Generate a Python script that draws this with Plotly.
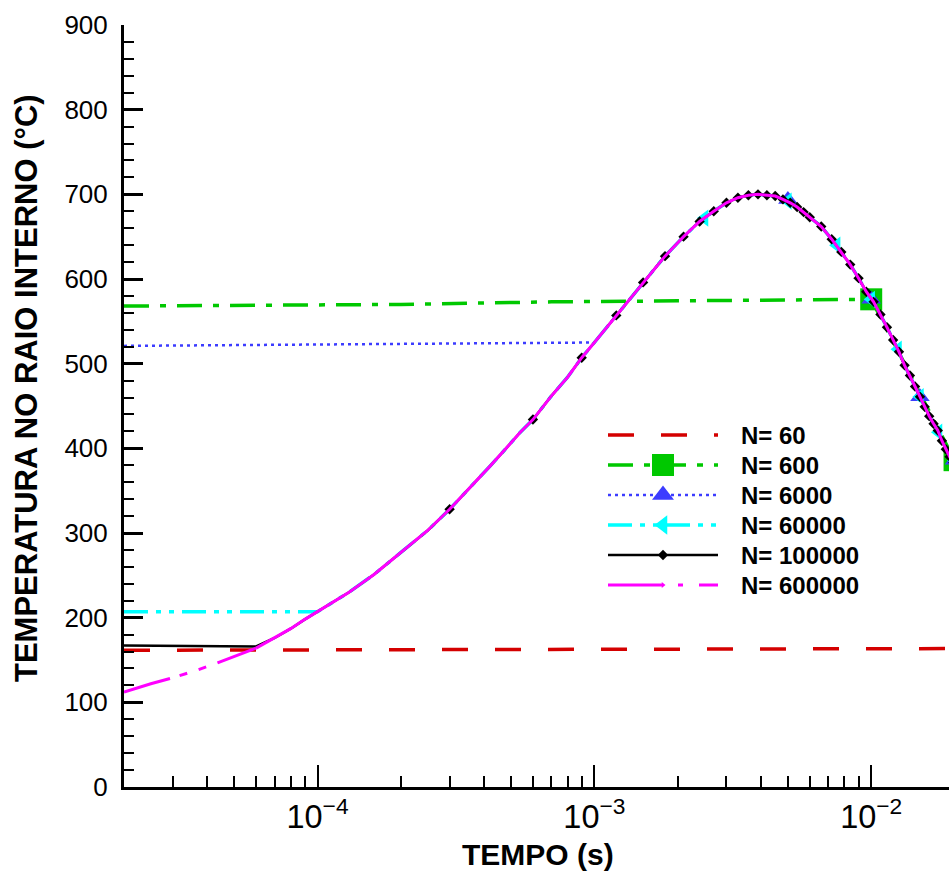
import math
import plotly.graph_objects as go

# ---------------- data ----------------
t_curve = [2.0e-5, 2.5e-5, 3.0e-5, 3.6e-5, 4.3e-5, 5.0e-5, 6.0e-5, 7.0e-5, 8.0e-5, 9.0e-5,
           1.0e-4, 1.3e-4, 1.6e-4, 2.0e-4, 2.5e-4, 3.0e-4, 3.6e-4, 4.2e-4, 4.8e-4, 5.4e-4,
           6.0e-4, 7.0e-4, 8.0e-4, 9.0e-4, 1.0e-3, 1.2e-3, 1.5e-3, 1.8e-3, 2.1e-3, 2.4e-3,
           2.7e-3, 3.0e-3, 3.3e-3, 3.6e-3, 3.9e-3, 4.2e-3, 4.5e-3, 4.8e-3, 5.1e-3, 5.4e-3,
           5.7e-3, 6.0e-3, 6.6e-3, 7.2e-3, 7.8e-3, 8.4e-3, 9.0e-3, 9.6e-3, 1.02e-2, 1.08e-2,
           1.14e-2, 1.2e-2, 1.26e-2, 1.32e-2, 1.38e-2, 1.44e-2, 1.5e-2, 1.56e-2, 1.62e-2, 1.68e-2,
           1.74e-2, 1.8e-2, 1.86e-2, 1.92e-2, 1.98e-2]
T_curve = [112, 122, 129, 137, 146, 154, 164, 176, 187, 198,
           207, 230, 251, 277, 303, 328, 355, 379, 400, 419,
           434, 462, 484, 507, 525, 557, 596, 627, 650, 668,
           680, 690, 696, 699, 700, 699, 698, 694, 690, 685,
           679, 673, 662, 647, 632, 617, 601, 585, 573, 558,
           543, 528, 514, 498, 486, 473, 461, 449, 438, 429,
           421, 409, 399, 390, 383]

labels = ["N= 60", "N= 600", "N= 6000", "N= 60000", "N= 100000", "N= 600000"]

# initial (flat) parts of each run before it joins the common curve
red_t = [2.0e-5, 2.0e-3, 2.0e-2]
red_T = [161.5, 162.5, 163.5]

green_t = [2.0e-5, 2.0e-4, 7.0e-4, 1.0e-2, 2.0e-2]
green_T = [568, 570, 573, 576, 386]
green_mk_t = [1.0e-2, 2.0e-2]
green_mk_T = [576, 386]

blue_t0 = [2.0e-5, 1.1e-4, 7.8e-4, 1.0e-3]
blue_T0 = [521, 522.5, 525, 525]
blue_join = 1.0e-3
blue_mk_t = [5.0e-3, 1.0e-2, 1.5e-2, 2.0e-2]
blue_mk_T = [694, 576, 461, 386]

cyan_t0 = [2.0e-5, 1.0e-4]
cyan_T0 = [207, 207]
cyan_join = 1.0e-4
cyan_mk_t = [2.5e-3, 5.0e-3, 7.5e-3, 1.0e-2, 1.25e-2, 1.5e-2, 1.75e-2, 2.0e-2]
cyan_mk_T = [672, 692, 640, 576, 517, 461, 419, 386]

black_t0 = [2.0e-5, 6.0e-5]
black_T0 = [167, 166]
black_join = 6.0e-5
black_mk_t = [3.0e-4, 6.0e-4, 9.0e-4, 1.2e-3, 1.5e-3, 1.8e-3, 2.1e-3, 2.4e-3, 2.7e-3, 3.0e-3,
              3.3e-3, 3.6e-3, 3.9e-3, 4.2e-3, 4.5e-3, 4.8e-3, 5.1e-3, 5.4e-3, 5.7e-3, 6.0e-3,
              6.6e-3, 7.2e-3, 7.8e-3, 8.4e-3, 9.0e-3, 9.6e-3, 1.02e-2, 1.08e-2, 1.14e-2, 1.2e-2,
              1.26e-2, 1.32e-2, 1.38e-2, 1.44e-2, 1.5e-2, 1.56e-2, 1.62e-2, 1.68e-2, 1.74e-2,
              1.8e-2, 1.86e-2, 1.92e-2, 1.98e-2]

magenta_split = 6.0e-5

# ---------------- styles ----------------
RED = "#d40000"
GREEN = "#00c800"
BLUE = "#3c3cff"
CYAN = "#00ffff"
BLACK = "#000000"
MAGENTA = "#ff00ff"

styles = [
    dict(color=RED, width=3.5, dash="26px,27px"),
    dict(color=GREEN, width=3.5, dash="25px,11px,6px,11px"),
    dict(color=BLUE, width=2.5, dash="3px,4px"),
    dict(color=CYAN, width=3.5, dash="24px,8px,5px,8px,5px,8px"),
    dict(color=BLACK, width=2.5),
    dict(color=MAGENTA, width=3),
]
markers = [
    None,
    dict(symbol="square", size=22, color=GREEN),
    dict(symbol="triangle-up", size=17, color=BLUE),
    dict(symbol="triangle-left", size=15, color=CYAN),
    dict(symbol="diamond", size=8, color=BLACK),
    dict(symbol="triangle-right", size=5, color=MAGENTA),
]

FONT = "Liberation Sans, Arial, sans-serif"


def after(tt, TT, t0):
    xs, ys = [], []
    for a, b in zip(tt, TT):
        if a > t0 * 1.0001:
            xs.append(a)
            ys.append(b)
    return xs, ys


fig = go.Figure()

# N = 60
fig.add_trace(go.Scatter(x=red_t, y=red_T, mode="lines", line=styles[0], showlegend=False))

# N = 600
fig.add_trace(go.Scatter(x=green_t, y=green_T, mode="lines", line=styles[1], showlegend=False))
fig.add_trace(go.Scatter(x=green_mk_t, y=green_mk_T, mode="markers", marker=markers[1], showlegend=False))

# N = 6000
bx, by = after(t_curve, T_curve, blue_join)
fig.add_trace(go.Scatter(x=blue_t0 + bx, y=blue_T0 + by, mode="lines", line=styles[2], showlegend=False))
fig.add_trace(go.Scatter(x=blue_mk_t, y=blue_mk_T, mode="markers", marker=markers[2], showlegend=False))

# N = 60000
cx, cy = after(t_curve, T_curve, cyan_join)
fig.add_trace(go.Scatter(x=cyan_t0 + cx, y=cyan_T0 + cy, mode="lines", line=styles[3], showlegend=False))
fig.add_trace(go.Scatter(x=cyan_mk_t, y=cyan_mk_T, mode="markers", marker=markers[3], showlegend=False))

# N = 100000
kx, ky = after(t_curve, T_curve, black_join)
fig.add_trace(go.Scatter(x=black_t0 + kx, y=black_T0 + ky, mode="lines", line=styles[4], showlegend=False))
lookup = dict(zip(t_curve, T_curve))
fig.add_trace(go.Scatter(x=black_mk_t, y=[lookup[t] for t in black_mk_t], mode="markers",
                         marker=markers[4], showlegend=False))

# N = 600000 (dashed early part, then continuous)
m1x = [t for t in t_curve if t <= magenta_split]
m1y = [T for t, T in zip(t_curve, T_curve) if t <= magenta_split]
m2x = [t for t in t_curve if t >= magenta_split]
m2y = [T for t, T in zip(t_curve, T_curve) if t >= magenta_split]
fig.add_trace(go.Scatter(x=m1x, y=m1y, mode="lines",
                         line=dict(color=MAGENTA, width=3, dash="48px,10px,8px,12px,8px,12px"),
                         showlegend=False))
fig.add_trace(go.Scatter(x=m2x, y=m2y, mode="lines", line=styles[5], showlegend=False))

# ---------------- custom legend on an overlay subplot ----------------
legend_dash = [
    "26px,27px",
    "25px,11px,6px,11px",
    "3px,4px",
    "24px,8px,5px,8px,5px,8px",
    "solid",
    "54px,16px,5px,16px",
]
LEG_X0, LEG_X1 = 608, 949          # overlay subplot span (px)
LEG_LINE = 110                      # legend sample length (px) -> 1 unit
for k, lab in enumerate(labels):
    row = k + 1
    st = dict(styles[k])
    st["dash"] = legend_dash[k]
    fig.add_trace(go.Scatter(x=[0, 1], y=[row, row], mode="lines", line=st,
                             xaxis="x2", yaxis="y2", showlegend=False, hoverinfo="skip"))
    if markers[k] is not None:
        mk = dict(markers[k])
        if k in (2, 3):
            mk["size"] = mk["size"] + 2
        fig.add_trace(go.Scatter(x=[0.5], y=[row], mode="markers", marker=mk,
                                 xaxis="x2", yaxis="y2", showlegend=False, hoverinfo="skip"))
    fig.add_annotation(x=1.19, y=row, xref="x2", yref="y2", text=lab, showarrow=False,
                       xanchor="left", yanchor="middle",
                       font=dict(family=FONT, size=24, color="black", weight="bold"))

# ---------------- axes ----------------
fig.update_layout(
    width=949, height=871,
    margin=dict(l=124, r=0, t=25, b=84),
    paper_bgcolor="white", plot_bgcolor="rgba(0,0,0,0)",
    font=dict(family=FONT, color="black"),
    showlegend=False,
    xaxis=dict(
        type="log", range=[math.log10(2e-5), -1.719], dtick=1,
        exponentformat="power", showexponent="all",
        showline=True, linecolor="black", linewidth=3,
        ticks="inside", ticklen=22, tickwidth=2, tickcolor="black",
        minor=dict(ticks="inside", ticklen=11, tickwidth=2, tickcolor="black", dtick="D1", showgrid=False),
        showgrid=False, zeroline=False,
        tickfont=dict(family=FONT, size=26, color="black"),
        ticklabelstandoff=0,
    ),
    yaxis=dict(
        range=[0, 900], dtick=100,
        showline=True, linecolor="black", linewidth=3,
        ticks="inside", ticklen=19, tickwidth=2.5, tickcolor="black",
        minor=dict(ticks="inside", ticklen=10, tickwidth=2, tickcolor="black", dtick=20, showgrid=False),
        showgrid=False, zeroline=False,
        tickfont=dict(family=FONT, size=26, color="black"),
        ticklabelstandoff=8,
    ),
    xaxis2=dict(domain=[(LEG_X0 - 124) / 825, (LEG_X1 - 124) / 825],
                range=[0, (LEG_X1 - LEG_X0) / LEG_LINE], visible=False,
                anchor="y2", fixedrange=True),
    yaxis2=dict(domain=[(787 - 600) / 762, (787 - 420) / 762], range=[6.5, 0.5], visible=False,
                anchor="x2", fixedrange=True),
)

fig.add_annotation(text="TEMPO (s)", xref="paper", yref="paper",
                   x=(538 - 124) / 825, y=(787 - 855) / 762, showarrow=False,
                   xanchor="center", yanchor="middle",
                   font=dict(family=FONT, size=30, color="black", weight="bold"))
fig.add_annotation(text="TEMPERATURA NO RAIO INTERNO (°C)", xref="paper", yref="paper",
                   x=(26 - 124) / 825, y=(787 - 388) / 762, showarrow=False, textangle=-90,
                   xanchor="center", yanchor="middle",
                   font=dict(family=FONT, size=31, color="black", weight="bold"))

fig.write_html("out.html")
